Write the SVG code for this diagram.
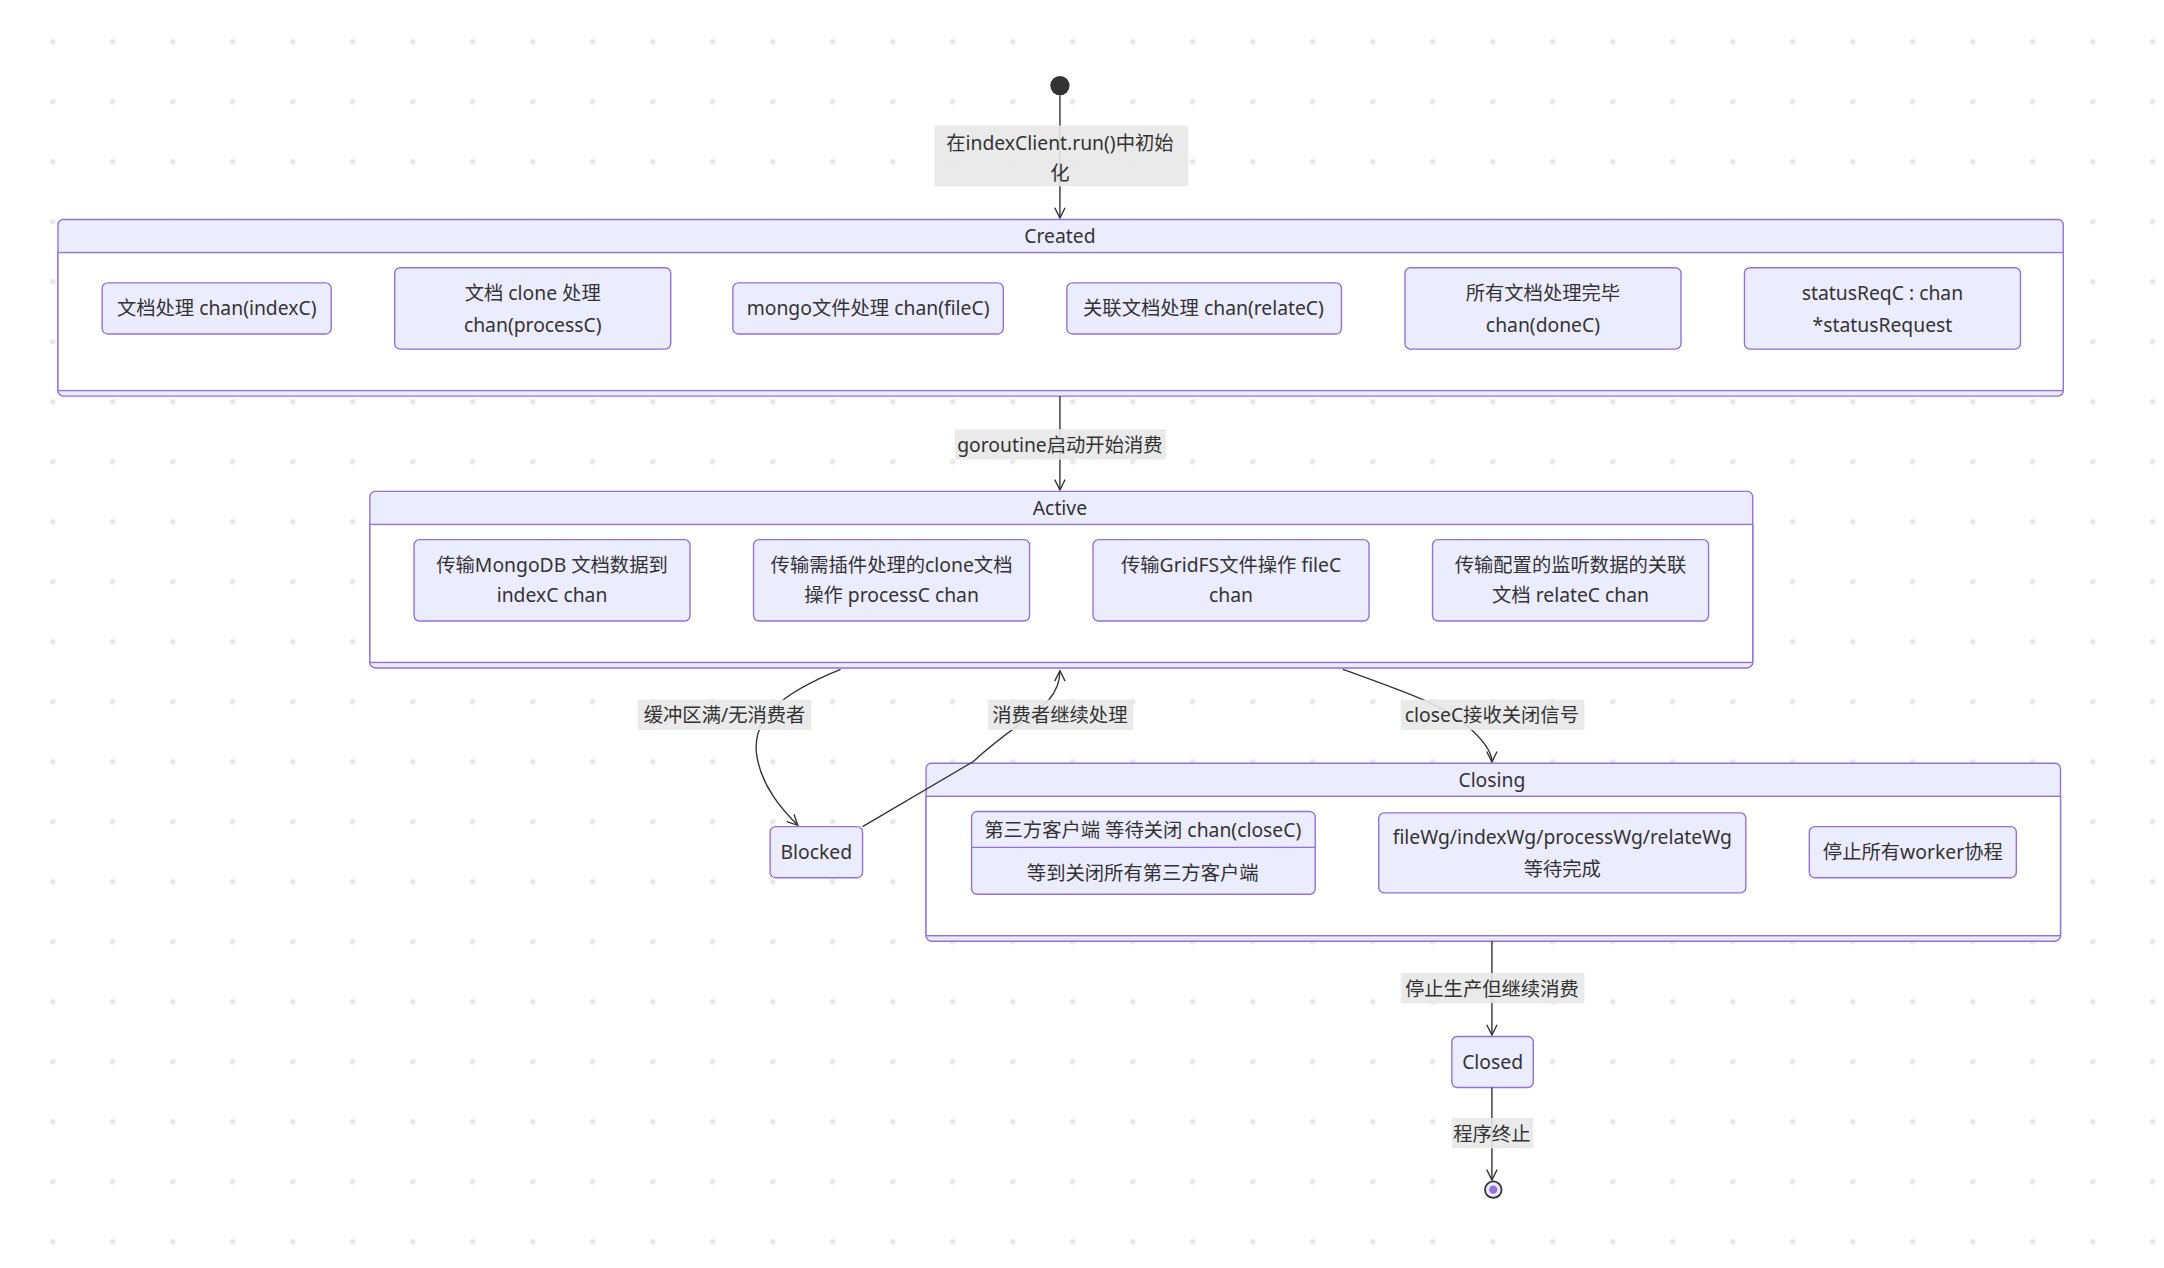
<svg xmlns="http://www.w3.org/2000/svg" width="2164" height="1268" viewBox="0 0 2164 1268">
<style>
text{font-family:"Noto Sans","Noto Sans CJK SC",sans-serif;font-size:14px;fill:#333;text-anchor:middle;dominant-baseline:central}
.c{fill:#ececff;stroke:#9370db;stroke-width:1}
.b{fill:#fff;stroke:#9370db;stroke-width:1}
.n{fill:#ececff;stroke:#9370db;stroke-width:1}
.e{fill:none;stroke:#333;stroke-width:1}
.lb{fill:#e8e8e8;opacity:0.9}
</style>
<defs>
<pattern id="dots" x="52.7" y="41.7" width="60" height="60" patternUnits="userSpaceOnUse">
<circle cx="0" cy="0" r="2.8" fill="#e8e8e8"/><circle cx="60" cy="0" r="2.8" fill="#e8e8e8"/><circle cx="0" cy="60" r="2.8" fill="#e8e8e8"/><circle cx="60" cy="60" r="2.8" fill="#e8e8e8"/>
</pattern>
<marker id="arr" viewBox="0 0 12 12" refX="11" refY="6" markerWidth="9" markerHeight="9" orient="auto" markerUnits="userSpaceOnUse">
<path d="M1,1 L11,6 L1,11" fill="none" stroke="#333" stroke-width="1.3"/>
</marker>
</defs>
<rect width="2164" height="1268" fill="#fff"/>
<rect width="2164" height="1268" fill="url(#dots)"/>
<g transform="scale(1.3801)">
<g id="Created">
<rect class="c" x="42" y="159" width="1453" height="128" rx="4"/>
<rect class="b" x="42" y="183" width="1453" height="100"/>
<text x="768" y="171">Created</text>
</g>
<g id="c1"><rect class="n" x="74" y="205" width="166" height="37" rx="4"/><text x="157" y="223">文档处理 chan(indexC)</text></g>
<g id="c2"><rect class="n" x="286" y="194" width="200" height="59" rx="4"/><text x="386" y="212">文档 clone 处理</text><text x="386" y="235">chan(processC)</text></g>
<g id="c3"><rect class="n" x="531" y="205" width="196" height="37" rx="4"/><text x="629" y="223">mongo文件处理 chan(fileC)</text></g>
<g id="c4"><rect class="n" x="773" y="205" width="199" height="37" rx="4"/><text x="872" y="223">关联文档处理 chan(relateC)</text></g>
<g id="c5"><rect class="n" x="1018" y="194" width="200" height="59" rx="4"/><text x="1118" y="212">所有文档处理完毕</text><text x="1118" y="235">chan(doneC)</text></g>
<g id="c6"><rect class="n" x="1264" y="194" width="200" height="59" rx="4"/><text x="1364" y="212">statusReqC : chan</text><text x="1364" y="235">*statusRequest</text></g>

<g id="Active">
<rect class="c" x="268" y="356" width="1002" height="128" rx="4"/>
<rect class="b" x="268" y="380" width="1002" height="100"/>
<text x="768" y="368">Active</text>
</g>
<g id="a1"><rect class="n" x="300" y="391" width="200" height="59" rx="4"/><text x="400" y="409">传输MongoDB 文档数据到</text><text x="400" y="431">indexC chan</text></g>
<g id="a2"><rect class="n" x="546" y="391" width="200" height="59" rx="4"/><text x="646" y="409">传输需插件处理的clone文档</text><text x="646" y="431">操作 processC chan</text></g>
<g id="a3"><rect class="n" x="792" y="391" width="200" height="59" rx="4"/><text x="892" y="409">传输GridFS文件操作 fileC</text><text x="892" y="431">chan</text></g>
<g id="a4"><rect class="n" x="1038" y="391" width="200" height="59" rx="4"/><text x="1138" y="409">传输配置的监听数据的关联</text><text x="1138" y="431">文档 relateC chan</text></g>

<g id="Closing">
<rect class="c" x="671" y="553" width="822" height="129" rx="4"/>
<rect class="b" x="671" y="577" width="822" height="101"/>
<text x="1081" y="565">Closing</text>
</g>
<g id="s1"><rect class="n" x="704" y="588" width="249" height="60" rx="4"/><line x1="704" y1="614" x2="953" y2="614" stroke="#9370db"/><text x="828" y="601">第三方客户端 等待关闭 chan(closeC)</text><text x="828" y="632">等到关闭所有第三方客户端</text></g>
<g id="s2"><rect class="n" x="999" y="589" width="266" height="58" rx="4"/><text x="1132" y="606">fileWg/indexWg/processWg/relateWg</text><text x="1132" y="629">等待完成</text></g>
<g id="s3"><rect class="n" x="1311" y="599" width="150" height="37" rx="4"/><text x="1386" y="617">停止所有worker协程</text></g>

<g id="Blocked"><rect class="n" x="558" y="599" width="67" height="37" rx="4"/><text x="591.5" y="617">Blocked</text></g>
<g id="Closed"><rect class="n" x="1052" y="751" width="59" height="37" rx="4"/><text x="1081.5" y="769">Closed</text></g>
<g id="start"><circle cx="768" cy="62" r="7" fill="#333"/></g>
<g id="end"><circle cx="1082" cy="862" r="6" fill="#ececff" stroke="#333" stroke-width="1.3"/><circle cx="1082" cy="862" r="3" fill="#9370db"/></g>

<g id="edges">
<path class="e" d="M768,69 L768,158" marker-end="url(#arr)"/>
<path class="e" d="M768,287 L768,355" marker-end="url(#arr)"/>
<path class="e" d="M609,485 C565,503 546,520 548,545 C551,570 568,588 578,598" marker-end="url(#arr)"/>
<path class="e" d="M625,599 L705,552 C742,518 768,512 768,486" marker-end="url(#arr)"/>
<path class="e" d="M973,485 C1020,502 1048,512 1062,525 C1076,537 1081,545 1081,552" marker-end="url(#arr)"/>
<path class="e" d="M1081,682 L1081,750" marker-end="url(#arr)"/>
<path class="e" d="M1081,788 L1081,855" marker-end="url(#arr)"/>
</g>
<g id="labels">
<rect class="lb" x="677" y="91" width="184" height="44"/><text x="768" y="103">在indexClient.run()中初始</text><text x="768" y="125">化</text>
<rect class="lb" x="692" y="311" width="153" height="22"/><text x="768" y="322">goroutine启动开始消费</text>
<rect class="lb" x="462" y="507" width="126" height="22"/><text x="525" y="518">缓冲区满/无消费者</text>
<rect class="lb" x="716" y="507" width="105" height="22"/><text x="768" y="518">消费者继续处理</text>
<rect class="lb" x="1015" y="507" width="133" height="22"/><text x="1081" y="518">closeC接收关闭信号</text>
<rect class="lb" x="1015" y="705" width="133" height="22"/><text x="1081" y="716">停止生产但继续消费</text>
<rect class="lb" x="1052" y="810" width="59" height="22"/><text x="1081" y="821">程序终止</text>
</g>
</g>
</svg>
